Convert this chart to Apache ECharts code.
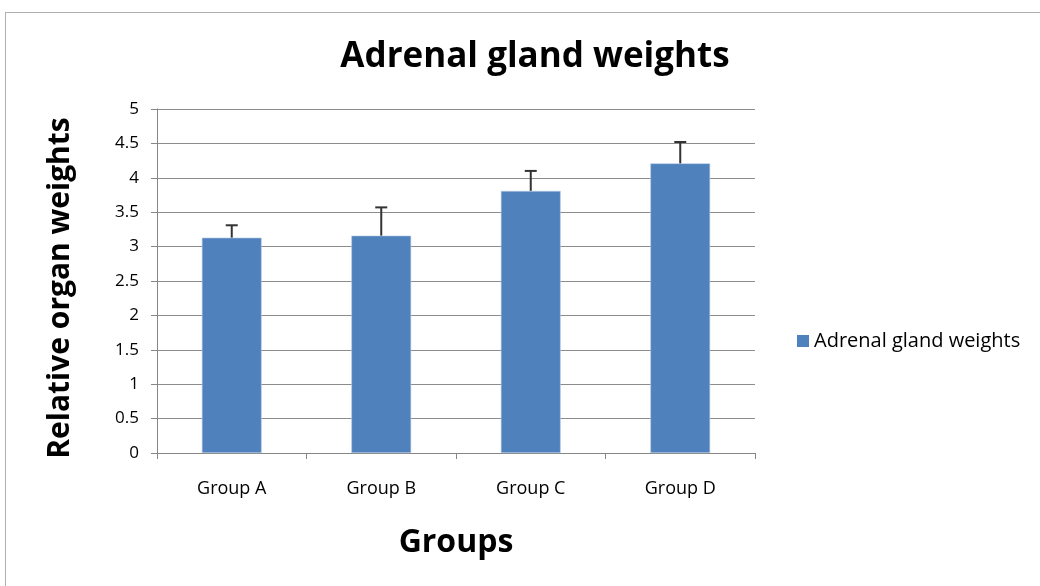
<!DOCTYPE html>
<html><head><meta charset="utf-8">
<script src="https://cdn.jsdelivr.net/npm/echarts@6/dist/echarts.min.js"></script>
<style>html,body{margin:0;padding:0;background:#fff}#c{width:1040px;height:586px;position:relative}
#frame{position:absolute;left:5px;top:12px;width:1040px;height:600px;border:1px solid #b0b0b0;box-sizing:border-box;pointer-events:none}</style>
</head><body><div id="c"></div><div id="frame"></div>
<script>
const categories = ['Group A', 'Group B', 'Group C', 'Group D'];
const values = [3.13, 3.16, 3.81, 4.21];
const errors = [0.18, 0.41, 0.29, 0.31];
const yTicks = [0, 0.5, 1, 1.5, 2, 2.5, 3, 3.5, 4, 4.5, 5];

const FONT = 'Open Sans';
const chart = echarts.init(document.getElementById('c'));
chart.setOption({
  backgroundColor: 'transparent',
  animation: false,
  title: {
    text: 'Adrenal gland weights', left: 530, top: 35, textAlign: 'center',
    textStyle: { fontFamily: FONT, fontWeight: 'bold', fontSize: 35, color: '#000' }
  },
  legend: {
    data: ['Adrenal gland weights'], left: 792, top: 326, icon: 'rect',
    itemWidth: 12, itemHeight: 12, itemGap: 6,
    itemStyle: { borderWidth: 0 },
    textStyle: { fontFamily: FONT, fontSize: 20, color: '#000' }
  },
  grid: { left: 157, right: 285, top: 109, bottom: 133 },
  xAxis: {
    type: 'category', data: categories,
    name: 'Groups', nameLocation: 'middle', nameGap: 74,
    nameTextStyle: { fontFamily: FONT, fontWeight: 'bold', fontSize: 32, color: '#000' },
    axisLine: { lineStyle: { color: '#868686', width: 1 } },
    axisTick: { show: true, length: 6, lineStyle: { color: '#868686' }, alignWithLabel: false },
    axisLabel: { fontFamily: FONT, fontSize: 18, color: '#000', margin: 27 }
  },
  yAxis: {
    type: 'value', min: 0, max: 5, interval: 0.5,
    name: 'Relative organ weights', nameLocation: 'middle', nameGap: 82,
    nameTextStyle: { fontFamily: FONT, fontWeight: 'bold', fontSize: 30, color: '#000', padding: [0, 14, 0, 0] },
    axisLine: { show: true, lineStyle: { color: '#868686' } },
    axisTick: { show: true, length: 6, lineStyle: { color: '#868686' } },
    axisLabel: { fontFamily: FONT, fontSize: 17, color: '#000', margin: 18,
      formatter: v => yTicks.includes(v) ? String(v) : '' },
    splitLine: { lineStyle: { color: '#8c8c8c', width: 1 } }
  },
  series: [
    {
      name: 'Adrenal gland weights', type: 'bar', data: values, barWidth: '40%',
      itemStyle: { color: '#4f81bd', borderColor: '#b9cde5', borderWidth: 0.6 }
    },
    {
      name: 'err', type: 'custom', silent: true, z: 5,
      data: values.map((v, i) => [i, v, errors[i]]),
      renderItem: function (params, api) {
        const i = api.value(0), v = api.value(1), e = api.value(2);
        const base = api.coord([i, v]);
        const top = api.coord([i, v + e]);
        const hw = 6;
        return {
          type: 'group',
          children: [
            { type: 'line', shape: { x1: base[0], y1: base[1], x2: top[0], y2: top[1] },
              style: { stroke: '#333333', lineWidth: 2 } },
            { type: 'line', shape: { x1: top[0] - hw, y1: top[1], x2: top[0] + hw, y2: top[1] },
              style: { stroke: '#333333', lineWidth: 2 } }
          ]
        };
      }
    }
  ]
});
</script></body></html>
